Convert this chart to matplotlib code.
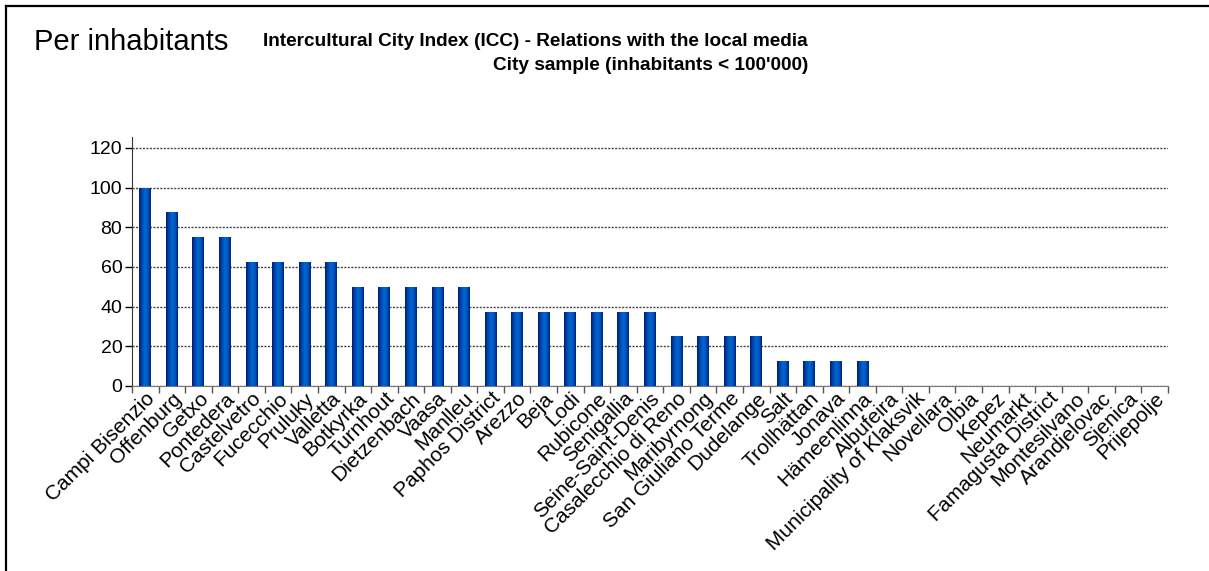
import numpy as np
import matplotlib
matplotlib.use("Agg")
import matplotlib.pyplot as plt
from matplotlib.colors import LinearSegmentedColormap
from matplotlib.lines import Line2D

plt.rcParams['font.family'] = ['Liberation Sans', 'DejaVu Sans']

# ---------------------------------------------------
# data
# ---------------------------------------------------
cities = [
    "Campi Bisenzio", "Offenburg", "Getxo", "Pontedera", "Castelvetro",
    "Fucecchio", "Pruluky", "Valletta", "Botkyrka", "Turnhout",
    "Dietzenbach", "Vaasa", "Manlleu", "Paphos District", "Arezzo",
    "Beja", "Lodi", "Rubicone", "Senigallia", "Seine-Saint-Denis",
    "Casalecchio di Reno", "Maribyrnong", "San Giuliano Terme", "Dudelange",
    "Salt", "Trollhättan", "Jonava", "Hämeenlinna", "Albufeira",
    "Municipality of Klaksvik", "Novellara", "Olbia", "Kepez", "Neumarkt",
    "Famagusta District", "Montesilvano", "Arandjelovac", "Sjenica",
    "Prijepolje",
]
values = [
    100, 87.5, 75, 75, 62.5,
    62.5, 62.5, 62.5, 50, 50,
    50, 50, 50, 37.5, 37.5,
    37.5, 37.5, 37.5, 37.5, 37.5,
    25, 25, 25, 25,
    12.5, 12.5, 12.5, 12.5, 0,
    0, 0, 0, 0, 0,
    0, 0, 0, 0,
    0,
]
yticks = [0, 20, 40, 60, 80, 100, 120]

# ---------------------------------------------------
# figure
# ---------------------------------------------------
W, H = 1209, 571
fig = plt.figure(figsize=(W / 100, H / 100), dpi=100)
ax = fig.add_axes([132 / W, 1 - 386 / H, (1168 - 132) / W, (386 - 137) / H])

x = np.arange(len(cities))
bars = ax.bar(x, values, width=0.45, color="#0050b8", zorder=3)

# horizontal gradient inside each bar (dark edges, bright center)
cmap = LinearSegmentedColormap.from_list(
    "barblue", ["#001a70", "#0048b0", "#0066d0", "#0058c0", "#002080"])
grad = np.linspace(0, 1, 64).reshape(1, -1)
for b in bars:
    if b.get_height() <= 0:
        continue
    bx, by = b.get_x(), b.get_y()
    im = ax.imshow(grad, cmap=cmap, aspect="auto", zorder=4,
                   extent=[bx, bx + b.get_width(), by, by + b.get_height()])
    im.set_clip_path(b)

ax.set_xlim(-0.5, len(cities) - 0.5)
ax.set_ylim(0, 125.5)
ax.set_yticks(yticks)
ax.set_yticklabels([str(v) for v in yticks], fontsize=14)

# category ticks between bars, labels centred under bars
ax.set_xticks(np.arange(len(cities) + 1) - 0.5)
ax.set_xticklabels([])
ax.set_xticks(x, minor=True)
ax.set_xticklabels(cities, minor=True, rotation=45, ha="right",
                   rotation_mode="anchor", fontsize=15)
ax.tick_params(axis="x", which="minor", length=0, pad=2)
ax.tick_params(axis="x", which="major", length=5, width=1, color="#555555",
               direction="out")
ax.tick_params(axis="y", length=5, width=1, direction="out", pad=2)

ax.grid(axis="y", linestyle=(0, (1.5, 1)), color="#444444", linewidth=1.0,
        zorder=0)
ax.spines["top"].set_visible(False)
ax.spines["right"].set_visible(False)
ax.spines["bottom"].set_color("#777777")
ax.spines["left"].set_color("#333333")

# ---------------------------------------------------
# texts
# ---------------------------------------------------
fig.text(34 / W, 1 - 42 / H, "Per inhabitants", fontsize=21,
         ha="left", va="center")
fig.text(808 / W, 1 - 41 / H,
         "Intercultural City Index (ICC) - Relations with the local media",
         fontsize=13.7, fontweight="bold", ha="right", va="center")
fig.text(808 / W, 1 - 66 / H, "City sample (inhabitants < 100'000)",
         fontsize=13.7, fontweight="bold", ha="right", va="center")

# frame lines (top and left)
fig.add_artist(Line2D([6 / W, 1], [1 - 5.5 / H, 1 - 5.5 / H],
                      transform=fig.transFigure, color="black", linewidth=1.6))
fig.add_artist(Line2D([6 / W, 6 / W], [0, 1 - 5.5 / H],
                      transform=fig.transFigure, color="black", linewidth=1.6))

fig.savefig("out.png", dpi=100)
